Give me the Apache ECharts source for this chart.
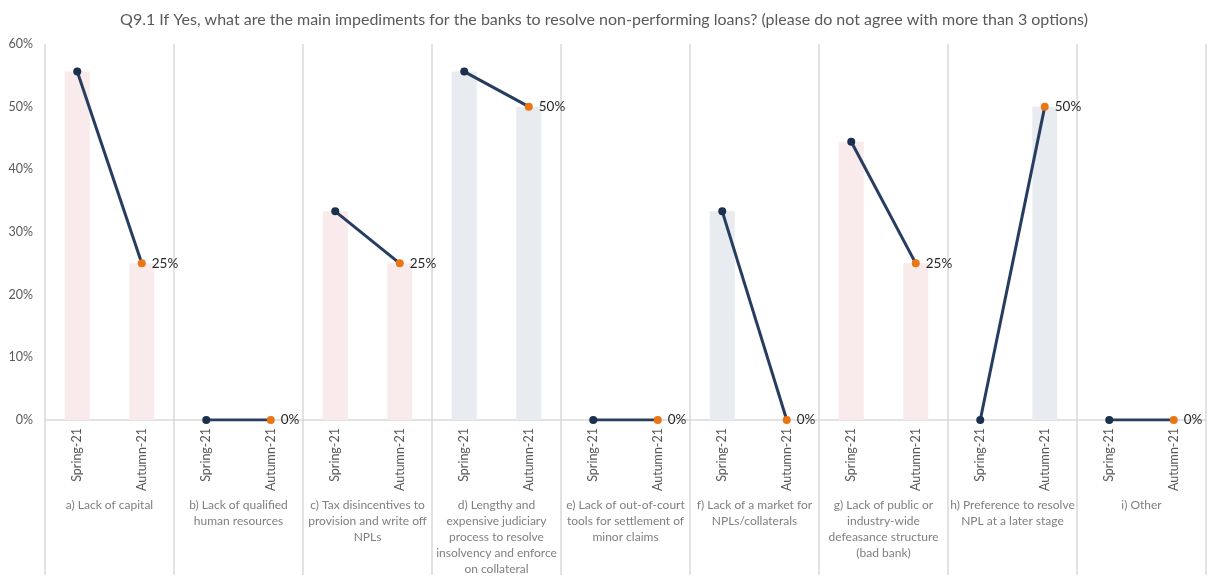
<!DOCTYPE html>
<html>
<head>
<meta charset="utf-8">
<script src="https://cdn.jsdelivr.net/npm/echarts@6/dist/echarts.min.js"></script>
<style>
  html, body { margin: 0; padding: 0; background: #fff; }
  #chart { width: 1208px; height: 577px; }
</style>
</head>
<body>
<div id="chart"></div>
<script>
const periods = ['Spring-21', 'Autumn-21']
const groups = [
  'a) Lack of capital',
  'b) Lack of qualified\nhuman resources',
  'c) Tax disincentives to\nprovision and write off\nNPLs',
  'd) Lengthy and\nexpensive judiciary\nprocess to resolve\ninsolvency and enforce\non collateral',
  'e) Lack of out-of-court\ntools for settlement of\nminor claims',
  'f) Lack of a market for\nNPLs/collaterals',
  'g) Lack of public or\nindustry-wide\ndefeasance structure\n(bad bank)',
  'h) Preference to resolve\nNPL at a later stage',
  'i) Other'
]
// share of banks, % (Spring-21, Autumn-21) per group
const spring = [55.6, 0, 33.3, 55.6, 0, 33.3, 44.4, 0, 0]
const autumn = [25, 0, 25, 50, 0, 0, 25, 50, 0]
const barTone = ['pink', 'pink', 'pink', 'grey', 'grey', 'grey', 'pink', 'grey', 'grey']

const tones = { pink: '#f9ebeb', grey: '#e8ebef' }
const cats = groups.flatMap(() => periods)

const barData = []
groups.forEach((g, i) => {
  const c = tones[barTone[i]]
  barData.push({ value: spring[i], itemStyle: { color: c } })
  barData.push({ value: autumn[i], itemStyle: { color: c } })
})

const lineSeries = groups.map((g, i) => {
  const data = cats.map(() => '-')
  data[2 * i] = { value: spring[i], itemStyle: { color: '#1b2f4f' } }
  data[2 * i + 1] = {
    value: autumn[i],
    itemStyle: { color: '#e97513' },
    label: { show: true }
  }
  return {
    type: 'line',
    data: data,
    symbol: 'circle',
    symbolSize: 8,
    connectNulls: false,
    lineStyle: { color: '#263d60', width: 3 },
    label: {
      show: false,
      position: 'right',
      distance: 6,
      color: '#262626',
      fontSize: 13.5,
      fontFamily: 'Lato',
      formatter: p => Math.round(p.value) + '%'
    },
    z: 3
  }
})

const chart = echarts.init(document.getElementById('chart'))
chart.setOption({
  animation: false,
  title: {
    text: 'Q9.1 If Yes, what are the main impediments for the banks to resolve non-performing loans? (please do not agree with more than 3 options)',
    left: 'center',
    top: 7,
    textStyle: { color: '#595959', fontSize: 16, fontWeight: 'normal', fontFamily: 'Lato' }
  },
  grid: { left: 45, right: 2, top: 44, bottom: 155 },
  xAxis: [
    {
      type: 'category',
      data: cats,
      axisLine: { show: true, lineStyle: { color: '#d9d9d9', width: 1.5 } },
      axisTick: { show: false },
      axisLabel: {
        interval: 0,
        rotate: 90,
        margin: 8,
        color: '#595959',
        fontSize: 12.5,
        fontFamily: 'Lato'
      }
    },
    {
      type: 'category',
      data: groups,
      position: 'bottom',
      axisLine: { show: false },
      axisTick: { show: true, interval: 0, length: 155, inside: false, lineStyle: { color: '#d9d9d9', width: 1.5 } },
      splitLine: { show: true, interval: 0, lineStyle: { color: '#d9d9d9', width: 1.5 } },
      axisLabel: {
        interval: 0,
        margin: 77,
        color: '#7f7f7f',
        fontSize: 12,
        lineHeight: 16,
        fontFamily: 'Lato',
        verticalAlign: 'top'
      }
    }
  ],
  yAxis: {
    type: 'value',
    min: 0,
    max: 60,
    interval: 10,
    splitLine: { show: false },
    axisLine: { show: false },
    axisLabel: { color: '#595959', fontSize: 12.5, fontFamily: 'Lato', margin: 12, formatter: '{value}%' }
  },
  series: [
    {
      type: 'bar',
      data: barData,
      barWidth: 25,
      xAxisIndex: 0,
      z: 1
    },
    ...lineSeries
  ]
})
</script>
</body>
</html>
